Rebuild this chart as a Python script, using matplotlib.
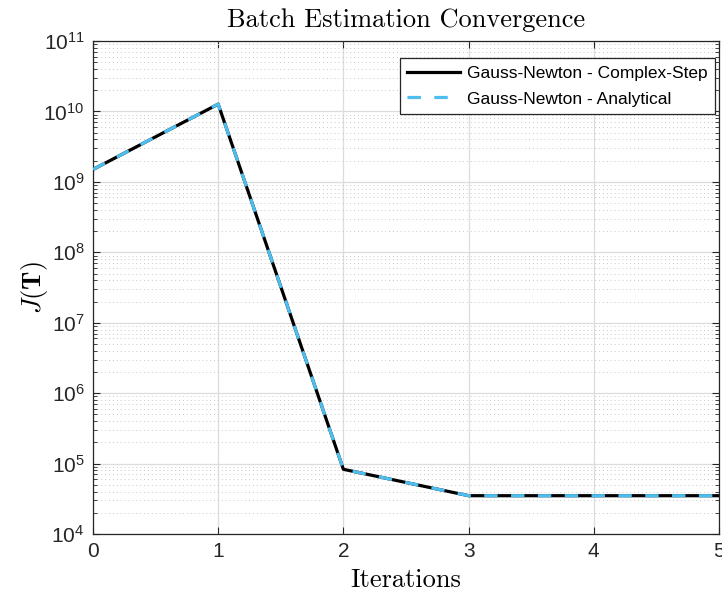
import numpy as np
import matplotlib
matplotlib.use('Agg')
import matplotlib.pyplot as plt
from matplotlib.ticker import LogLocator, NullFormatter, MultipleLocator

# data
iterations = [0, 1, 2, 3, 4, 5]
cost_complex_step = [1.5e9, 1.27e10, 8.3e4, 3.5e4, 3.5e4, 3.5e4]
cost_analytical = [1.5e9, 1.27e10, 8.3e4, 3.5e4, 3.5e4, 3.5e4]
labels = ['Gauss-Newton - Complex-Step', 'Gauss-Newton - Analytical']

plt.rcParams['font.family'] = ['Liberation Sans', 'DejaVu Sans']
plt.rcParams['mathtext.fontset'] = 'custom'
plt.rcParams['mathtext.rm'] = 'Liberation Sans'

fig = plt.figure(figsize=(7.22, 5.97), dpi=100)
ax = fig.add_axes([0.1288, 0.1055, 0.9958 - 0.1288, 0.9313 - 0.1055])

ax.semilogy(iterations, cost_complex_step, color='black', lw=2.3,
            label=labels[0], zorder=3)
ax.semilogy(iterations, cost_analytical, color='#4DBEEE', lw=2.3,
            linestyle=(0, (4.2, 4.2)), label=labels[1], zorder=4)

ax.set_xlim(0, 5)
ax.set_ylim(1e4, 1e11)
ax.xaxis.set_major_locator(MultipleLocator(1))
ax.yaxis.set_major_locator(LogLocator(base=10, numticks=20))
ax.yaxis.set_minor_locator(LogLocator(base=10, subs=np.arange(2, 10), numticks=20))
ax.yaxis.set_minor_formatter(NullFormatter())

ax.grid(True, which='major', color='#dcdcdc', lw=0.9, zorder=0)
ax.grid(True, which='minor', axis='y', color='#c8c8c8', lw=0.7,
        linestyle=(0, (1, 3)), zorder=0)
ax.set_axisbelow(True)

ax.tick_params(which='both', direction='in', top=True, right=True,
               labelsize=15, colors='#262626')
ax.tick_params(which='major', length=5, pad=6)
ax.tick_params(which='minor', length=3)
for sp in ax.spines.values():
    sp.set_color('#262626')
    sp.set_linewidth(0.9)

ax.set_title('Batch Estimation Convergence', fontfamily='cmr10',
             fontsize=19, pad=10)
ax.set_xlabel('Iterations', fontfamily='cmr10', fontsize=19, labelpad=5)
ax.set_ylabel(r'$J(\mathbf{T})$', math_fontfamily='cm', fontsize=19,
              labelpad=-5)

leg = ax.legend(loc='upper right', bbox_to_anchor=(0.9936, 0.9655),
                borderaxespad=0, fontsize=12.5, handlelength=3.0,
                handletextpad=0.4, fancybox=False, framealpha=1,
                edgecolor='#262626', borderpad=0.45, labelspacing=0.6)
leg.get_frame().set_linewidth(0.9)

fig.savefig('out.png', dpi=100)
